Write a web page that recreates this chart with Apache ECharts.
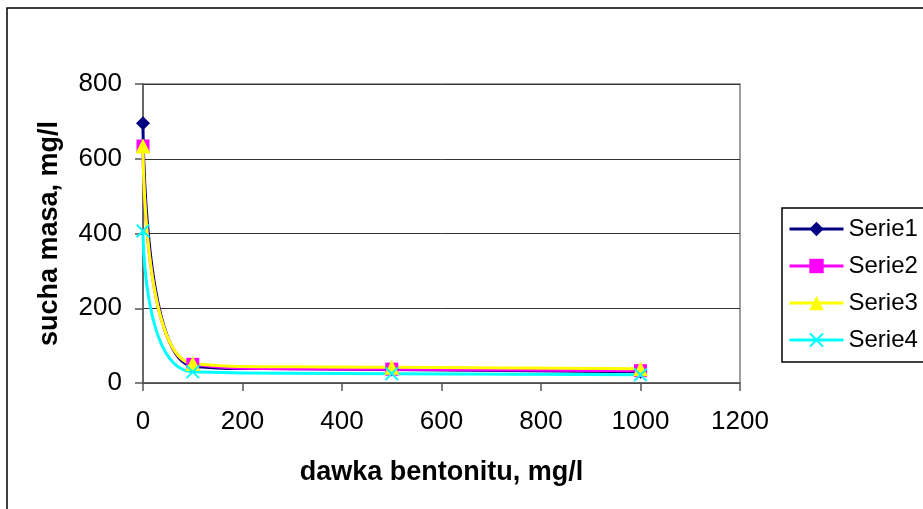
<!DOCTYPE html>
<html>
<head>
<meta charset="utf-8">
<script src="https://cdn.jsdelivr.net/npm/echarts@6/dist/echarts.min.js"></script>
<style>
html,body{margin:0;padding:0;background:#fff;}
#chart{width:923px;height:509px;}
</style>
</head>
<body>
<div id="chart"></div>
<script>
const xValues = [0, 100, 500, 1000];
const serie1 = [695, 45, 36, 30];
const serie2 = [634, 50, 37, 33];
const serie3 = [634, 52, 42, 38];
const serie4 = [407, 30, 25, 22];
const seriesNames = ['Serie1', 'Serie2', 'Serie3', 'Serie4'];
const xTitle = 'dawka bentonitu, mg/l';
const yTitle = 'sucha masa, mg/l';

const FONT = '"Liberation Sans", Arial, sans-serif';
const crossPath = 'path://M0,1L1,0L5,4L9,0L10,1L6,5L10,9L9,10L5,6L1,10L0,9L4,5Z';

function pts(vals){ return xValues.map((x,i)=>[x, vals[i]]); }

const styles = [
  {color:'#000080', symbol:'diamond', size:14},
  {color:'#FF00FF', symbol:'rect', size:13},
  {color:'#FFFF00', symbol:'triangle', size:15},
  {color:'#00FFFF', symbol:crossPath, size:14}
];
const data = [serie1, serie2, serie3, serie4];

const chart = echarts.init(document.getElementById('chart'), null, {renderer:'canvas'});
chart.setOption({
  animation:false,
  backgroundColor:'#fff',
  textStyle:{fontFamily:FONT},
  graphic:[{type:'rect', shape:{x:7, y:8, width:1000, height:1000}, style:{fill:'none', stroke:'#000', lineWidth:1.5}, z:-1}],
  grid:{left:143, right:183, top:84, bottom:126, show:true, borderColor:'#808080', borderWidth:1.5, backgroundColor:'transparent'},
  xAxis:{
    type:'value', min:0, max:1200, interval:200,
    name:xTitle, nameLocation:'middle', nameGap:76,
    nameTextStyle:{fontSize:27, fontWeight:'bold', color:'#000', fontFamily:FONT},
    axisLine:{show:true, onZero:false, lineStyle:{color:'#555', width:1.5}},
    axisTick:{show:true, length:8, lineStyle:{color:'#555', width:1.5}},
    axisLabel:{fontSize:26, color:'#000', margin:26, fontFamily:FONT, formatter:v=>String(v)},
    splitLine:{show:false}
  },
  yAxis:{
    type:'value', min:0, max:800, interval:200,
    name:yTitle, nameLocation:'middle', nameGap:80,
    nameTextStyle:{fontSize:27, fontWeight:'bold', color:'#000', fontFamily:FONT},
    axisLine:{show:true, lineStyle:{color:'#555', width:1.5}},
    axisTick:{show:true, length:8, lineStyle:{color:'#555', width:1.5}},
    axisLabel:{fontSize:26, color:'#000', margin:21, fontFamily:FONT, formatter:v=>String(v)},
    splitLine:{show:true, lineStyle:{color:'#333', width:1}}
  },
  legend:{
    orient:'vertical', left:782, top:208,
    padding:[9, 12, 10, 6],
    borderColor:'#000', borderWidth:1.5, backgroundColor:'#fff',
    itemWidth:54, itemHeight:18, itemGap:13,
    lineStyle:{width:3},
    textStyle:{fontSize:24, color:'#000', lineHeight:24, fontFamily:FONT},
    data:seriesNames
  },
  series: seriesNames.map((n,i)=>({
    name:n, type:'line', smooth:0.9,
    data:pts(data[i]),
    symbol:styles[i].symbol, symbolSize:styles[i].size,
    showAllSymbol:true,
    lineStyle:{color:styles[i].color, width:3},
    itemStyle:{color:styles[i].color, borderWidth:0},
    emphasis:{disabled:true}
  }))
});
</script>
</body>
</html>
